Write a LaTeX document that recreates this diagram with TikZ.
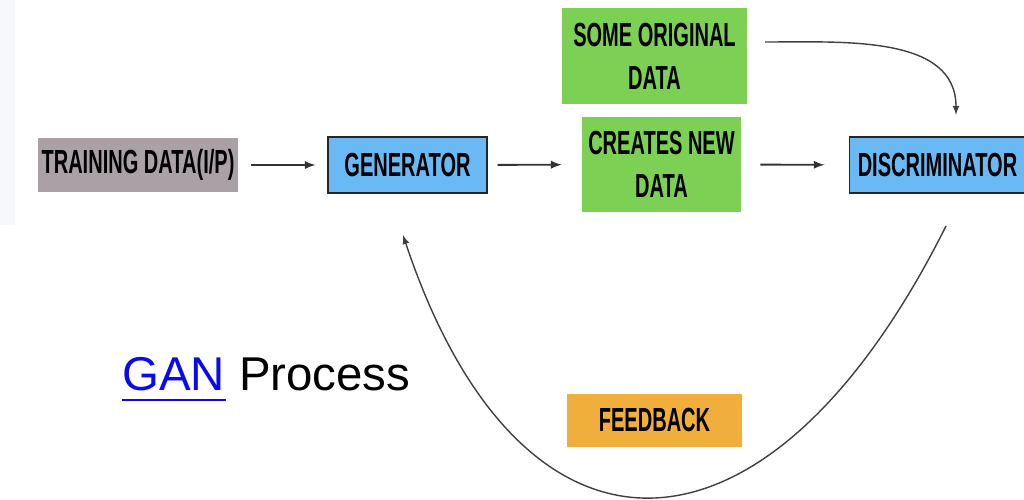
\documentclass[tikz,border=0pt]{standalone}
\usepackage{fontspec}
\setmainfont{Liberation Sans}
\newfontfamily\boxfont[FakeStretch=0.6]{Liberation Sans}
\usetikzlibrary{positioning}
\usetikzlibrary{arrows}

\definecolor{traingray}{RGB}{170,161,167}
\definecolor{genblue}{RGB}{105,185,245}
\definecolor{datagreen}{RGB}{124,209,84}
\definecolor{fborange}{RGB}{240,174,60}
\definecolor{linkblue}{RGB}{10,10,240}
\definecolor{stripblue}{RGB}{246,248,252}

\newcommand{\boxtext}{\boxfont\bfseries\fontsize{19pt}{24.5pt}\selectfont}

\begin{document}
\begin{tikzpicture}[x=0.02cm, y=-0.02cm,
    stage/.style={inner sep=0pt, align=center, font=\boxtext},
    framed/.style={draw=black!85, line width=0.6pt},
    flow/.style={-latex, line width=1.1pt, draw=black!80},
    loop/.style={-latex, line width=0.8pt, draw=black!75}]
 	% page size in pixels
 	\useasboundingbox (0,0) rectangle (1024,500);
 	\fill[stripblue] (0,0) rectangle (15,225);

 	% the stages
 	\node[stage, fill=traingray, minimum width=4cm, minimum height=1.08cm] (train) at (138,165) {TRAINING DATA(I/P)};
 	\node[stage, framed, fill=genblue, minimum width=3.18cm, minimum height=1.12cm] (gen) at (407.5,165) {GENERATOR};
 	\node[stage, fill=datagreen, minimum width=3.18cm, minimum height=1.9cm] (newdata) at (661.5,164.5) {CREATES NEW\\DATA};
 	\node[stage, fill=datagreen, minimum width=3.7cm, minimum height=1.92cm] (origdata) at (654.5,56) {SOME ORIGINAL\\DATA};
 	\node[stage, framed, fill=genblue, minimum width=3.54cm, minimum height=1.12cm] (disc) at (937.5,165) {DISCRIMINATOR};
 	\node[stage, fill=fborange, minimum width=3.5cm, minimum height=1.06cm] (feedback) at (654.5,420.5) {FEEDBACK};

 	% title
 	\node[inner sep=0pt, anchor=base west, font=\fontsize{27pt}{32pt}\selectfont, text=linkblue] (gan) at (122,390) {GAN};
 	\node[inner sep=0pt, anchor=base west, font=\fontsize{27pt}{32pt}\selectfont] (proc) at ([xshift=7.5pt]gan.base east) {Process};
 	\draw[linkblue, line width=1.1pt] ([yshift=-5.7pt]gan.base west) -- ([yshift=-5.7pt]gan.base east);

 	% forward arrows
 	\foreach \a/\b/\s/\e in {train/gen/0.26/0.24, gen/newdata/0.2/0.4, newdata/disc/0.38/0.48}
 		{\draw[flow, shorten <=\s cm, shorten >=\e cm] (\a) -- (\b);}

 	% real data into the discriminator
 	\coordinate (origout) at (765,42);
 	\coordinate (discin) at (956,115);
 	\draw[loop] (origout) to[out=0, in=90] (discin);

 	% feedback loop back to the generator
 	\coordinate (fbout) at (946,226);
 	\coordinate (fbin) at (403,235);
 	\draw[loop] (fbout) .. controls (766,586) and (520,586) .. (fbin);
\end{tikzpicture}
\end{document}
